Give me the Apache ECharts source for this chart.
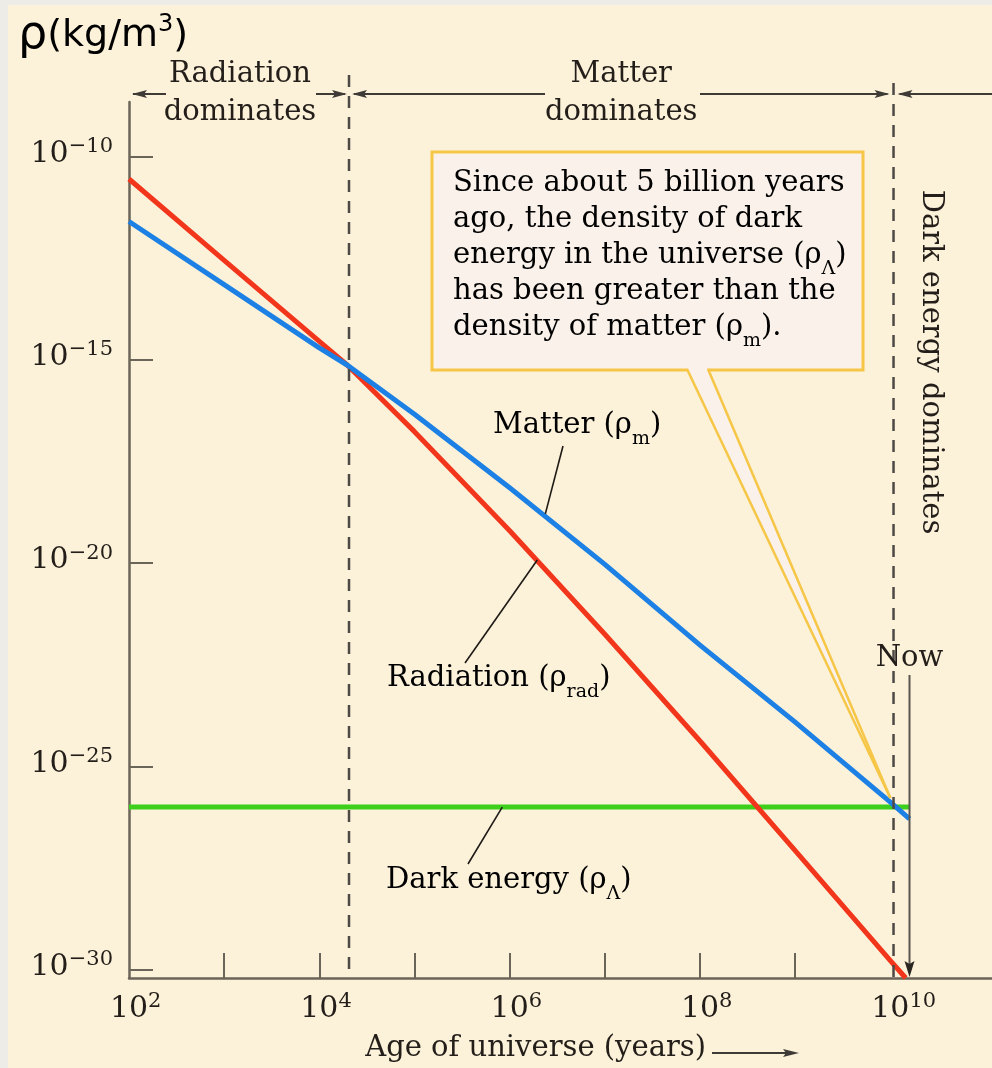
<!DOCTYPE html>
<html><head><meta charset="utf-8">
<script src="https://cdn.jsdelivr.net/npm/echarts@6/dist/echarts.min.js"></script>
<style>html,body{margin:0;padding:0;background:#fcf1d9;}#c{width:992px;height:1068px;}</style>
</head><body><div id="c"></div>
<script>
// ---------------- data ----------------
const radiationAge = [1e2, 1e3, 1e4, 1.96e4, 1e5, 1e6, 1e7, 1e8, 1e9, 1e10, 1.45e10];
const radiationRho = [2.8e-11, 2.8e-13, 2.84e-15, 7.45e-16, 1.71e-17, 6.27e-20, 1.78e-22, 4.22e-25, 8.45e-28, 1.68e-30, 6.25e-31];
const matterAge = [1e2, 1e3, 1e4, 1.96e4, 1e5, 1e6, 1e7, 1e8, 1e9, 1e10, 1.59e10];
const matterRho = [2.52e-12, 7.08e-14, 1.97e-15, 7.45e-16, 4.6e-17, 7.1e-19, 9.3e-21, 9.62e-23, 1.23e-24, 1.32e-26, 5.13e-27];
const darkAge = [1e2, 1.59e10];
const darkRho = [1e-26, 1e-26];

const xTickValues = [1e3, 1e4, 1e5, 1e6, 1e7, 1e8, 1e9];
const xLabelValues = [1e2, 1e4, 1e6, 1e8, 1e10];
const xLabelExps = ['2', '4', '6', '8', '10'];
const yTickValues = [1e-30, 1e-25, 1e-20, 1e-15, 1e-10];
const yLabelExps = ['\u221230', '\u221225', '\u221220', '\u221215', '\u221210'];

const xMin = 1e2, xMax = 1.17e11;
const yMin = 6.25e-31, yMax = 2.19e-9;

const eqAge = 2.05e4;      // radiation / matter boundary
const deAge = 1.08e10;     // matter / dark energy boundary
const nowAge = 1.59e10;    // now
const calloutTip = [1.0e10, 1.67e-26];
const matterPtr = [2.37e6, 1.62e-19];
const radPtr = [1.95e6, 1.19e-20];
const darkPtr = [8.36e5, 1e-26];

// ---------------- styles ----------------
const AX = '#6b6458';
const TXT = '#231e19';
const SERIF = 'DejaVu Serif';
const FS = 29;

function findIdx(vals, v) {
  for (let i = 0; i < vals.length; i++) {
    if (Math.abs(Math.log10(vals[i]) - Math.log10(v)) < 1e-6) return i;
  }
  return -1;
}

const chart = echarts.init(document.getElementById('c'), null, { renderer: 'canvas' });

const supRich = {
  b: { fontFamily: SERIF, fontSize: 30, lineHeight: 34, color: TXT },
  s: { fontFamily: SERIF, fontSize: 21, height: 19, lineHeight: 34, verticalAlign: 'top', color: TXT },
  p: { fontFamily: SERIF, fontSize: 21, height: 19, lineHeight: 34, verticalAlign: 'top', color: 'rgba(0,0,0,0)' }
};

const option = {
  animation: false,
  backgroundColor: '#fcf1d9',
  grid: { left: 129, right: 0, top: 102, bottom: 90, containLabel: false },
  xAxis: {
    type: 'log', logBase: 10, min: xMin, max: xMax,
    axisLine: { show: true, lineStyle: { color: AX, width: 2.5 } },
    axisTick: { show: true, inside: true, length: 25, customValues: xTickValues, lineStyle: { color: AX, width: 2 } },
    minorTick: { show: false },
    splitLine: { show: false },
    axisLabel: {
      customValues: xLabelValues, margin: 14,
      formatter: function (v) {
        const i = findIdx(xLabelValues, v);
        const e = i >= 0 ? xLabelExps[i] : '';
        return '{p|' + e + '}{b|10}{s|' + e + '}';
      },
      rich: supRich
    }
  },
  yAxis: {
    type: 'log', logBase: 10, min: yMin, max: yMax,
    axisLine: { show: true, lineStyle: { color: AX, width: 2.5 } },
    axisTick: { show: true, inside: true, length: 24, customValues: yTickValues, lineStyle: { color: AX, width: 2 } },
    minorTick: { show: false },
    splitLine: { show: false },
    axisLabel: {
      customValues: yTickValues, margin: 16, padding: [0, 0, 5, 0],
      formatter: function (v) {
        const i = findIdx(yTickValues, v);
        const e = i >= 0 ? yLabelExps[i] : '';
        return '{b|10}{s|' + e + '}';
      },
      rich: supRich
    }
  },
  series: [
    { name: 'Dark energy', type: 'line', showSymbol: false, symbol: 'none',
      data: darkAge.map((a, i) => [a, darkRho[i]]),
      lineStyle: { color: '#3ccf1c', width: 5 }, z: 2 },
    { name: 'Radiation', type: 'line', showSymbol: false, symbol: 'none',
      data: radiationAge.map((a, i) => [a, radiationRho[i]]),
      lineStyle: { color: '#f2361c', width: 5, join: 'round' }, z: 3 },
    { name: 'Matter', type: 'line', showSymbol: false, symbol: 'none',
      data: matterAge.map((a, i) => [a, matterRho[i]]),
      lineStyle: { color: '#1c80e4', width: 5, join: 'round' }, z: 4 }
  ]
};
chart.setOption(option);

// ---------------- annotations ----------------
const P = (x, y) => chart.convertToPixel({ gridIndex: 0 }, [x, y]);
const axisX = P(xMin, yMax)[0];
const axisY = P(xMin, yMin)[1];
const eqX = P(eqAge, yMax)[0];
const deX = P(deAge, yMax)[0];
const nowX = P(nowAge, yMax)[0];
const GR = '#3e3a36';

function text(t, x, y, extra) {
  return { type: 'text', x: x, y: y, z: 100, style: Object.assign({ text: t, fill: TXT, fontFamily: SERIF, fontSize: FS, align: 'left', verticalAlign: 'middle' }, extra || {}) };
}
function seg(x1, y1, x2, y2, stroke, w, dash) {
  return { type: 'line', z: 99, shape: { x1: x1, y1: y1, x2: x2, y2: y2 }, style: { stroke: stroke, lineWidth: w, lineDash: dash || null } };
}
function head(x, y, dir, len, half, color) {
  let pts;
  if (dir === 'left') pts = [[x, y], [x + len, y - half], [x + len - 3, y], [x + len, y + half]];
  else if (dir === 'right') pts = [[x, y], [x - len, y - half], [x - len + 3, y], [x - len, y + half]];
  else pts = [[x, y], [x - half, y - len], [x, y - len + 3], [x + half, y - len]];
  return { type: 'polygon', z: 101, shape: { points: pts }, style: { fill: color } };
}

const subRich = {
  a: { fontFamily: SERIF, fontSize: FS, lineHeight: 36, color: TXT },
  s: { fontFamily: SERIF, fontSize: 19, height: 8, lineHeight: 36, verticalAlign: 'bottom', color: TXT }
};

const g = [];
// frame strips
g.push({ type: 'rect', z: 0, shape: { x: 0, y: 0, width: 8, height: 1068 }, style: { fill: '#eeece6' } });
g.push({ type: 'rect', z: 0, shape: { x: 0, y: 0, width: 992, height: 5 }, style: { fill: '#eeece6' } });

// dashed boundaries
g.push(seg(eqX, 75, eqX, axisY, '#4d4945', 2.5, [12, 9]));
g.push(seg(deX, 83, deX, axisY, '#4d4945', 2.5, [12, 9]));

// top region arrows
const AY = 94;
g.push(seg(axisX + 4, AY, 166, AY, GR, 2));
g.push(head(axisX + 3, AY, 'left', 15, 4, GR));
g.push(seg(316, AY, eqX - 4, AY, GR, 2));
g.push(head(eqX - 2, AY, 'right', 15, 4, GR));
g.push(seg(eqX + 5, AY, 545, AY, GR, 2));
g.push(head(eqX + 3, AY, 'left', 15, 4, GR));
g.push(seg(700, AY, deX - 6, AY, GR, 2));
g.push(head(deX - 4, AY, 'right', 15, 4, GR));
g.push(seg(deX + 6, AY, 992, AY, GR, 2));
g.push(head(deX + 4, AY, 'left', 15, 4, GR));

const radC = (axisX + eqX) / 2 + 1;
const matC = (eqX + deX) / 2;
g.push(text('Radiation', radC, 74, { align: 'center' }));
g.push(text('dominates', radC, 112, { align: 'center' }));
g.push(text('Matter', matC, 74, { align: 'center' }));
g.push(text('dominates', matC, 112, { align: 'center' }));

// rotated label
g.push({ type: 'text', x: 931, y: 362, rotation: -Math.PI / 2, z: 100,
  style: { text: 'Dark energy dominates', fill: TXT, fontFamily: SERIF, fontSize: FS, align: 'center', verticalAlign: 'middle' } });

// callout box
const tip = P(calloutTip[0], calloutTip[1]);
const BOXF = '#faf2ea', BOXS = '#f6c646';
g.push({ type: 'rect', z: 102, shape: { x: 432, y: 152, width: 431, height: 218 }, style: { fill: BOXF, stroke: BOXS, lineWidth: 3 } });
g.push({ type: 'polygon', z: 103, shape: { points: [[688, 367], [707, 367], [707.5, 370], tip, [687.5, 370]] }, style: { fill: BOXF } });
g.push({ type: 'line', z: 104, shape: { x1: 687, y1: 369, x2: tip[0], y2: tip[1] }, style: { stroke: BOXS, lineWidth: 2.5 } });
g.push({ type: 'line', z: 104, shape: { x1: 708, y1: 369, x2: tip[0], y2: tip[1] }, style: { stroke: BOXS, lineWidth: 2.5 } });
g.push({ type: 'text', x: 453, y: 165, z: 105, style: {
  text: '{a|Since about 5 billion years}\n{a|ago, the density of dark}\n{a|energy in the universe (\u03c1}{s|\u039b}{a|)}\n{a|has been greater than the}\n{a|density of matter (\u03c1}{s|m}{a|).}',
  align: 'left', verticalAlign: 'top', rich: subRich } });

// curve labels with pointers
const mp = P(matterPtr[0], matterPtr[1]);
const rp = P(radPtr[0], radPtr[1]);
const dp = P(darkPtr[0], darkPtr[1]);
g.push(seg(563, 446, mp[0], mp[1], '#1e1a16', 1.6));
g.push(seg(465, 663, rp[0], rp[1], '#1e1a16', 1.6));
g.push(seg(468, 864, dp[0], dp[1], '#1e1a16', 1.6));
g.push({ type: 'text', x: 493, y: 425, z: 100, style: { text: '{a|Matter (\u03c1}{s|m}{a|)}', align: 'left', verticalAlign: 'middle', rich: subRich } });
g.push({ type: 'text', x: 387, y: 678, z: 100, style: { text: '{a|Radiation (\u03c1}{s|rad}{a|)}', align: 'left', verticalAlign: 'middle', rich: subRich } });
g.push({ type: 'text', x: 386, y: 880, z: 100, style: { text: '{a|Dark energy (\u03c1}{s|\u039b}{a|)}', align: 'left', verticalAlign: 'middle', rich: subRich } });

// Now marker
g.push(seg(nowX, 675, nowX, axisY - 10, '#5a5550', 2));
g.push(head(nowX, axisY - 1, 'down', 16, 5, '#2a2622'));
g.push(text('Now', nowX, 658, { align: 'center' }));

// axis titles
g.push({ type: 'text', x: 18, y: 36, z: 100, style: { text: '{r|\u03c1}{t|(kg/m}{u|3}{t|)}', align: 'left', verticalAlign: 'middle',
  rich: {
    r: { fontFamily: 'DejaVu Sans', fontSize: 46, lineHeight: 46, color: '#1a1714' },
    t: { fontFamily: 'DejaVu Sans', fontSize: 38, lineHeight: 46, color: '#1a1714' },
    u: { fontFamily: 'DejaVu Sans', fontSize: 24, height: 24, lineHeight: 46, verticalAlign: 'top', color: '#1a1714' }
  } } });
g.push(text('Age of universe (years)', 706, 1048, { align: 'right' }));
g.push(seg(712, 1053, 790, 1053, GR, 2));
g.push(head(799, 1053, 'right', 16, 4, GR));

chart.setOption({ graphic: g });
</script></body></html>
